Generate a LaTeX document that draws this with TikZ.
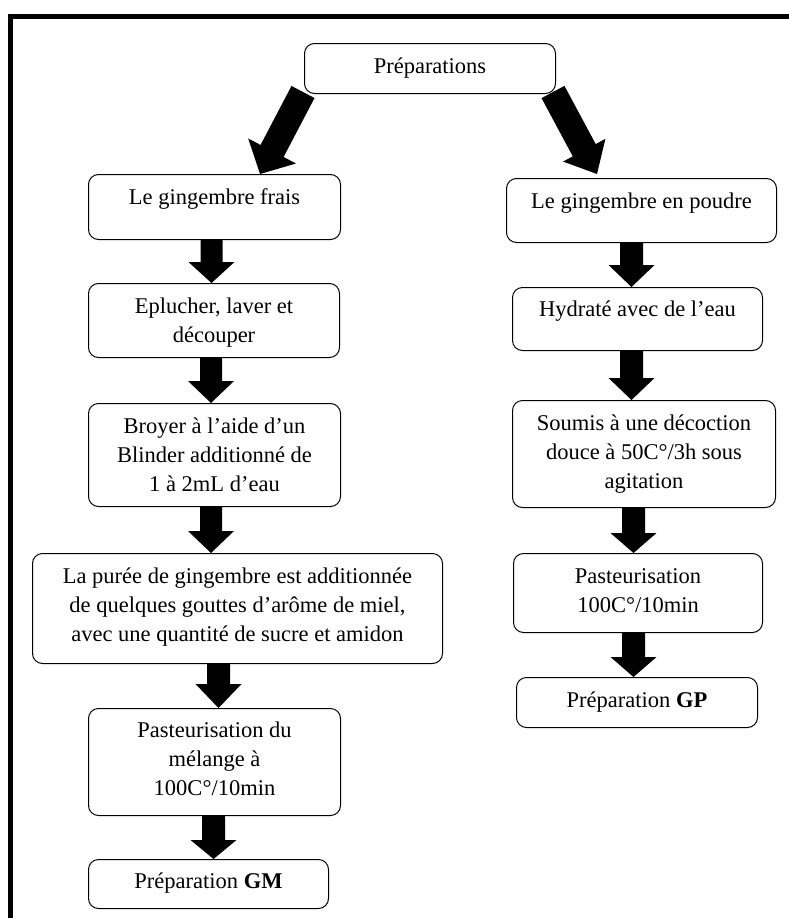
\documentclass[tikz,border=0pt]{standalone}
\usepackage{fontspec}
\setmainfont{Liberation Serif}
\usetikzlibrary{calc}
\newcommand\blkarrow[5]{% #1 from, #2 to, #3 shaft half width, #4 head half width, #5 head length
  \coordinate (bkH) at ($(#2)!#5!(#1)$);
  \fill ($(#1)!#3!90:(#2)$) -- ($(bkH)!#3!90:(#2)$) -- ($(bkH)!#4!90:(#2)$) -- (#2)
     -- ($(bkH)!#4!-90:(#2)$) -- ($(bkH)!#3!-90:(#2)$) -- ($(#1)!#3!-90:(#2)$) -- cycle;}
\begin{document}
\begin{tikzpicture}[x=1pt,y=-1pt,
  box/.style={draw, line width=1pt, rounded corners=10pt, inner sep=0pt, anchor=north west},
  txt/.style={font=\fontsize{22.5}{29}\selectfont, align=center, anchor=base, inner sep=0pt}]
\useasboundingbox (0,0) rectangle (788,918);
% frame
\draw[line width=5.5pt] (10.5,940) -- (10.5,16.5) -- (810,16.5);
% boxes
\node[box, minimum width=251pt, minimum height=50pt] (p0) at (304,43) {};
\node[box, minimum width=252pt, minimum height=65pt] (b1) at (88,174) {};
\node[box, minimum width=251pt, minimum height=74pt] (b2) at (88,283) {};
\node[box, minimum width=252pt, minimum height=103pt] (b3) at (88,403) {};
\node[box, minimum width=410pt, minimum height=110pt] (b4) at (32,553) {};
\node[box, minimum width=252pt, minimum height=107pt] (b5) at (88,708) {};
\node[box, minimum width=240pt, minimum height=49pt] (b6) at (88,859) {};
\node[box, minimum width=270pt, minimum height=64pt] (r1) at (506,178) {};
\node[box, minimum width=250pt, minimum height=63pt] (r2) at (512,287) {};
\node[box, minimum width=263pt, minimum height=107pt] (r3) at (512,400) {};
\node[box, minimum width=249pt, minimum height=79pt] (r4) at (513,553) {};
\node[box, minimum width=241pt, minimum height=50pt] (r5) at (516,677) {};
% texts (base anchor = baseline of the last line)
\node[txt] (tp0) at ([yshift=-30pt]p0.north) {Préparations};
\node[txt] (tb1) at ([yshift=-30pt]b1.north) {Le gingembre frais};
\node[txt] (tb2) at ([yshift=-59pt]b2.north) {Eplucher, laver et\\découper};
\node[txt] (tb3) at ([yshift=-88pt]b3.north) {Broyer à l’aide d’un\\Blinder additionné de\\1 à 2mL d’eau};
\node[txt] (tb4) at ([yshift=-88pt]b4.north) {La purée de gingembre est additionnée\\de quelques gouttes d’arôme de miel,\\avec une quantité de sucre et amidon};
\node[txt] (tb5) at ([yshift=-87pt]b5.north) {Pasteurisation du\\mélange à\\100C°/10min};
\node[txt] (tb6) at ([yshift=-29pt]b6.north) {Préparation \textbf{GM}};
\node[txt] (tr1) at ([yshift=-30pt]r1.north) {Le gingembre en poudre};
\node[txt] (tr2) at ([yshift=-29pt]r2.north) {Hydraté avec de l’eau};
\node[txt] (tr3) at ([yshift=-88pt]r3.north) {Soumis à une décoction\\douce à 50C°/3h sous\\agitation};
\node[txt] (tr4) at ([yshift=-59pt]r4.north) {Pasteurisation\\100C°/10min};
\node[txt] (tr5) at ([yshift=-30pt]r5.north) {Préparation \textbf{GP}};
% arrow end points
\coordinate (a1s) at (b1.south -| 211.5,0);
\coordinate (a1e) at (b2.north -| 211.5,0);
\coordinate (a2s) at (b2.south -| 211,0);
\coordinate (a2e) at (b3.north -| 211,0);
\coordinate (a3s) at (b3.south -| 211,0);
\coordinate (a3e) at (b4.north -| 211,0);
\coordinate (a4s) at (b4.south -| 218.5,0);
\coordinate (a4e) at (b5.north -| 218.5,0);
\coordinate (a5s) at (b5.south -| 213.5,0);
\coordinate (a5e) at (b6.north -| 213.5,0);
\coordinate (c1s) at (r1.south -| 631.5,0);
\coordinate (c1e) at (r2.north -| 631.5,0);
\coordinate (c2s) at (r2.south -| 631.5,0);
\coordinate (c2e) at (r3.north -| 631.5,0);
\coordinate (c3s) at (r3.south -| 633.5,0);
\coordinate (c3e) at (r4.north -| 633.5,0);
\coordinate (c4s) at (r4.south -| 633.5,0);
\coordinate (c4e) at (r5.north -| 633.5,0);
\coordinate (d1s) at ([shift={(-1pt,2pt)}]p0.south west);
\coordinate (d1e) at (b1.north -| 260,0);
\coordinate (d2s) at ([shift={(-3pt,2pt)}]p0.south east);
\coordinate (d2e) at ($(r1.north -| 597,0)+(0,-4)$);
% block arrows
\blkarrow{d1s}{d1e}{13pt}{27pt}{26pt}
\blkarrow{d2s}{d2e}{13pt}{24pt}{27pt}
\blkarrow{a1s}{a1e}{11pt}{23pt}{21pt}
\blkarrow{a2s}{a2e}{11pt}{23pt}{22pt}
\blkarrow{a3s}{a3e}{11pt}{23pt}{22pt}
\blkarrow{a4s}{a4e}{11.5pt}{23pt}{24pt}
\blkarrow{a5s}{a5e}{11.5pt}{23pt}{19pt}
\blkarrow{c1s}{c1e}{11.5pt}{23pt}{22pt}
\blkarrow{c2s}{c2e}{11.5pt}{23pt}{22pt}
\blkarrow{c3s}{c3e}{11.5pt}{23pt}{20pt}
\blkarrow{c4s}{c4e}{11.5pt}{23pt}{20pt}
\end{tikzpicture}
\end{document}
